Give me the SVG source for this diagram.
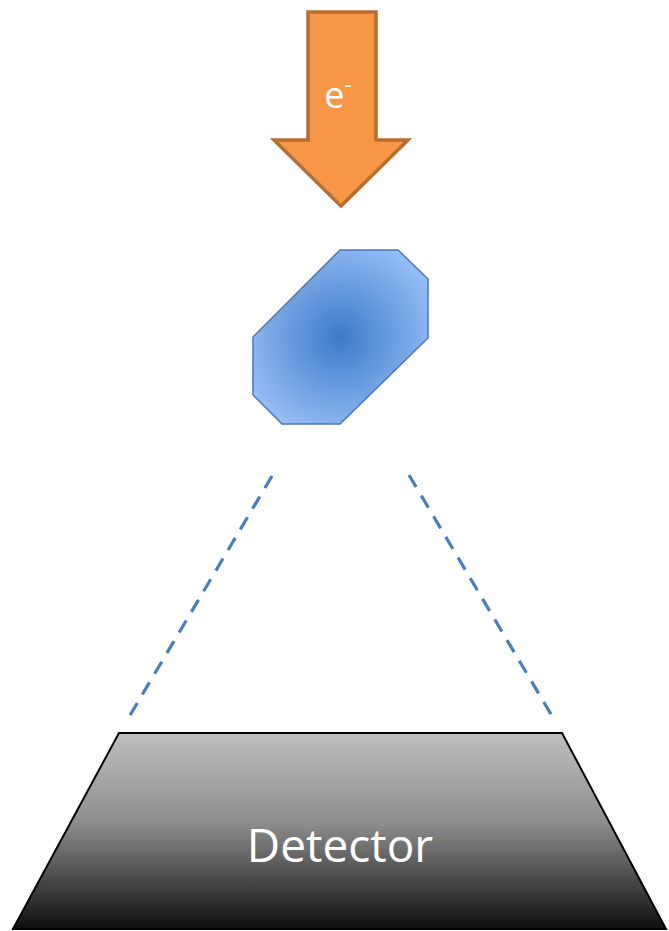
<svg xmlns="http://www.w3.org/2000/svg" width="669" height="931" viewBox="0 0 669 931">
  <defs>
    <radialGradient id="gBlue" cx="340" cy="337" r="110" gradientUnits="userSpaceOnUse">
      <stop offset="0" stop-color="#3d7bc7"/>
      <stop offset="1" stop-color="#9cc2fa"/>
    </radialGradient>
    <linearGradient id="gDet" x1="0" y1="733" x2="0" y2="929" gradientUnits="userSpaceOnUse">
      <stop offset="0" stop-color="#bebebe"/>
      <stop offset="0.45" stop-color="#8f8f8f"/>
      <stop offset="1" stop-color="#0e0e0e"/>
    </linearGradient>
    <style>
      .lbl { font-family: "Open Sans", "Liberation Sans", sans-serif; fill: #ffffff; text-anchor: middle; }
      .cone { stroke: #4a7ebb; stroke-width: 3.2; stroke-dasharray: 14 10; fill: none; }
    </style>
  </defs>
  <g id="beam">
    <path d="M308,12 L376,12 L376,140 L408,140 L341,206 L274,140 L308,140 Z" fill="#f79646" stroke="#b86e2f" stroke-width="3.5" stroke-linejoin="miter"/>
    <text class="lbl" x="338" y="108" font-size="36">e<tspan dy="-16" font-size="22">-</tspan></text>
  </g>
  <g id="sample">
    <polygon points="340,250 398,250 428,279 428,338 340,424 282,424 253,395 253,337" fill="url(#gBlue)" stroke="#4a78b8" stroke-width="1.5"/>
  </g>
  <g id="connectors">
    <line class="cone" x1="272" y1="476" x2="126" y2="722"/>
    <line class="cone" x1="409" y1="475" x2="555" y2="721"/>
  </g>
  <g id="detector">
    <polygon points="119,733 562,733 666,929 13,929" fill="url(#gDet)" stroke="#000000" stroke-width="2"/>
    <text class="lbl" x="340" y="862" font-size="46">Detector</text>
  </g>
</svg>
